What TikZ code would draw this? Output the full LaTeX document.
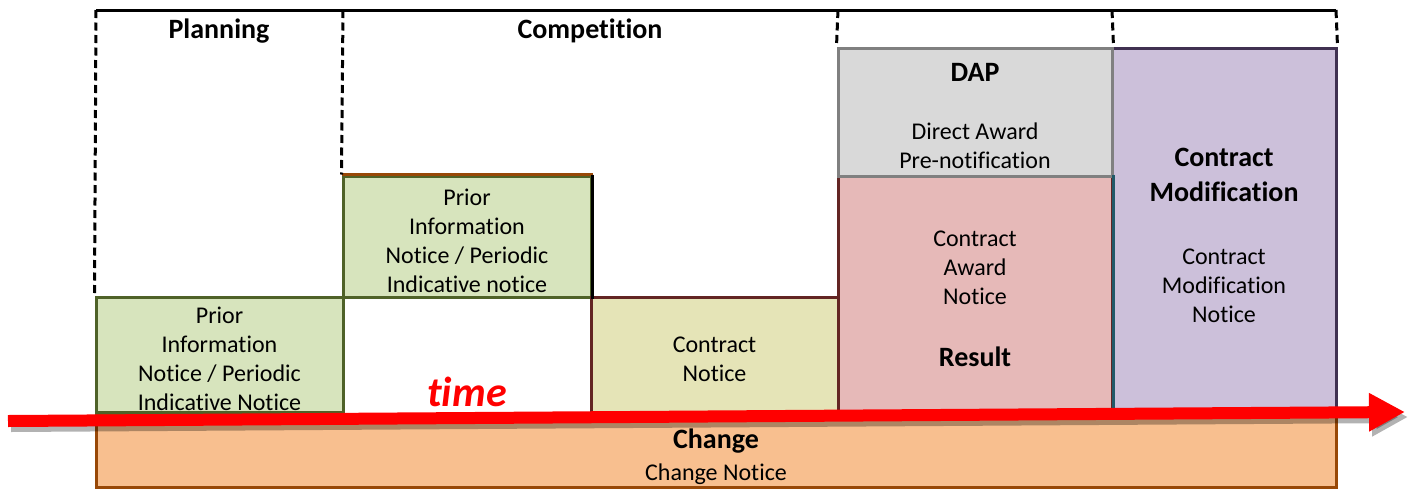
\documentclass[tikz,border=0pt]{standalone}
\usepackage{fontspec}
\setmainfont{Carlito}[Ligatures=NoCommon]
\usetikzlibrary{positioning, arrows.meta}

\definecolor{pinfill}{HTML}{D7E4BD}
\definecolor{pinline}{HTML}{4F6228}
\definecolor{brownline}{HTML}{984807}
\definecolor{cnfill}{HTML}{E5E4B7}
\definecolor{darkred}{HTML}{632523}
\definecolor{dapfill}{HTML}{D9D9D9}
\definecolor{dapline}{HTML}{808080}
\definecolor{canfill}{HTML}{E6B9B8}
\definecolor{tealline}{HTML}{215968}
\definecolor{cmfill}{HTML}{CCC0DA}
\definecolor{cmline}{HTML}{403151}
\definecolor{chfill}{HTML}{F8BF8F}

\newcommand{\hd}[1]{{\fontsize{28}{34}\selectfont\bfseries #1}}
\newcommand{\tp}[1][26pt]{\rule{0pt}{#1}}

\tikzset{
    stage/.style={draw, line width=3pt, inner sep=0pt, align=center,
        font=\fontsize{24}{29}\selectfont},
    dashline/.style={line width=3pt, dash pattern=on 8pt off 4.5pt},
    timeline/.style={line width=12pt, -{Triangle[length=36pt, width=36pt]}}
}

\begin{document}
\begin{tikzpicture}[x=1pt, y=-1pt]
    \useasboundingbox (0,0) rectangle (1413,488);

    \node [stage, fill=pinfill, draw=pinline,
        minimum width=247, minimum height=115
    ] (pinA) at (219.5,354.5) {\tp Prior\\Information\\Notice / Periodic\\Indicative Notice};

    \node [stage, fill=pinfill, draw=pinline,
        minimum width=248, minimum height=121
    ] (pinB) at (467,236.5) {\tp Prior\\Information\\Notice / Periodic\\Indicative notice};

    \node [stage, fill=cnfill, draw=darkred,
        minimum width=247, minimum height=115
    ] (cn) at (714.5,354.5) {\tp Contract\\Notice};

    \node [stage, fill=cmfill, draw=cmline,
        minimum width=224, minimum height=364
    ] (cm) at (1224,230) {\tp[30pt]\hd{Contract}\\[6pt]\hd{Modification}\\[34pt]Contract\\Modification\\Notice};

    \node [stage, fill=canfill, draw=darkred,
        minimum width=274, minimum height=236
    ] (can) at (975,294) {\tp Contract\\Award\\Notice\\[33pt]\hd{Result}};

    \node [stage, fill=dapfill, draw=dapline,
        minimum width=274, minimum height=128
    ] (dap) at (975,112) {\tp\hd{DAP}\\[29pt]Direct Award\\Pre-notification};

    \node [stage, fill=chfill, draw=brownline,
        minimum width=1240, minimum height=72
    ] (change) at (716,451) {\tp[31pt]\hd{Change}\\[3pt]Change Notice};

    % odd borders
    \draw [brownline, line width=3pt] (pinB.north west) -- (pinB.north east);
    \draw [black, line width=3pt] (pinB.north east) -- (pinB.south east);
    \draw [tealline, line width=3pt] (can.north east) -- (can.south east);

    % header frame
    \draw [line width=3pt] (96,10) -- (1336,10);
    \draw [dashline] (96,10) -- (pinA.north west);
    \draw [dashline] (343,10) -- (pinB.north west);
    \draw [dashline] (838,10) -- (dap.north west);
    \draw [dashline] (1112,10) -- (dap.north east);
    \draw [dashline] (1336,10) -- (cm.north east);

    \node (lblplan) at (219,31) {\hd{Planning}};
    \node (lblcomp) at (590,31) {\hd{Competition}};
    \node [text=red] (lbltime) at (467,392)
        {\fontsize{42}{46}\selectfont\bfseries\itshape time};

    % time arrow
    \coordinate (tstart) at (8,421);
    \coordinate (tend) at (1405,412);
    \draw [timeline, black, opacity=0.3] ([shift={(3,5)}]tstart) -- ([shift={(3,5)}]tend);
    \draw [timeline, red] (tstart) -- (tend);
\end{tikzpicture}
\end{document}
